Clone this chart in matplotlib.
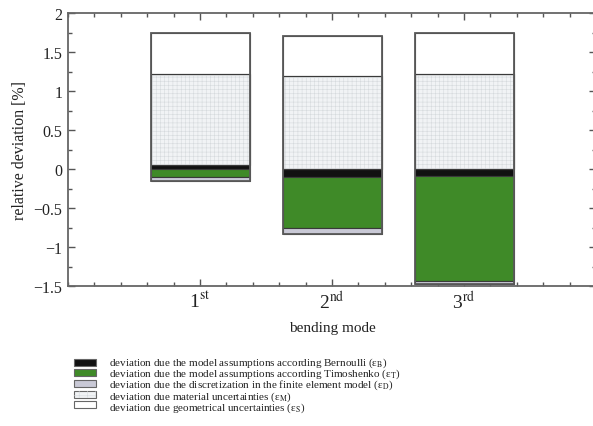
import matplotlib
matplotlib.use("Agg")
import matplotlib.pyplot as plt
from matplotlib.patches import Rectangle
from matplotlib.ticker import MultipleLocator
import numpy as np

plt.rcParams['font.family'] = ['Liberation Serif', 'DejaVu Serif']
plt.rcParams['mathtext.fontset'] = 'stix'
plt.rcParams['hatch.linewidth'] = 0.4

modes = [1, 2, 3]
mode_labels = [r'1$^{\mathrm{st}}$', r'2$^{\mathrm{nd}}$', r'3$^{\mathrm{rd}}$']

# signed contributions per bending mode, stacked from zero (positive up, negative down)
bernoulli = [0.045, -0.10, -0.09]
timoshenko = [-0.10, -0.65, -1.34]
discretization = [-0.06, -0.08, -0.05]
material = [1.175, 1.19, 1.22]
geometric = [0.52, 0.51, 0.52]

series = [
    (bernoulli, '#111111', None, r'deviation due the model assumptions according Bernoulli (ε$_{\mathrm{B}}$)'),
    (timoshenko, '#3f8a28', None, r'deviation due the model assumptions according Timoshenko (ε$_{\mathrm{T}}$)'),
    (discretization, '#c9c9d6', None, r'deviation due the discretization in the finite element model (ε$_{\mathrm{D}}$)'),
    (material, '#f1f3f5', '++++', r'deviation due material uncertainties (ε$_{\mathrm{M}}$)'),
    (geometric, '#ffffff', None, r'deviation due geometrical uncertainties (ε$_{\mathrm{S}}$)'),
]

W, H = 593, 427
fig = plt.figure(figsize=(W / 100, H / 100), dpi=100)
ax = fig.add_axes([68 / W, 1 - 287 / H, (596 - 68) / W, (287 - 14) / H])

width = 0.75
pos = np.zeros(3)
neg = np.zeros(3)
x = np.array(modes, dtype=float)
for vals, col, hatch, lab in series:
    v = np.array(vals)
    bottom = np.where(v >= 0, pos, neg)
    ax.bar(x, v, width, bottom=bottom, color=col, edgecolor='#3a3a3a', linewidth=0.8, zorder=2)
    if hatch:
        ax.bar(x, v, width, bottom=bottom, color='none', edgecolor='#d6dadd', hatch=hatch,
               linewidth=0, zorder=2.5)
        ax.bar(x, v, width, bottom=bottom, color='none', edgecolor='#3a3a3a', linewidth=0.8, zorder=3)
    pos = pos + np.where(v >= 0, v, 0)
    neg = neg + np.where(v < 0, v, 0)

# outer bar outlines
ax.bar(x, pos - neg, width, bottom=neg, color='none', edgecolor='#5a5a5a', linewidth=1.3, zorder=4)

ax.set_xlim(0, 4)
ax.set_ylim(-1.5, 2)
ax.set_xticks(modes)
ax.set_xticklabels(mode_labels, fontsize=14)
ax.xaxis.set_minor_locator(MultipleLocator(0.2))
ax.yaxis.set_minor_locator(MultipleLocator(0.25))
ax.set_yticks([-1.5, -1, -0.5, 0, 0.5, 1, 1.5, 2])
ax.set_yticklabels(['\u22121.5', '\u22121', '\u22120.5', '0', '0.5', '1', '1.5', '2'], fontsize=11.5)
ax.tick_params(which='both', direction='in', top=True, right=True, colors='#555555',
               labelcolor='#222222', width=1.0)
ax.tick_params(which='major', length=5, pad=4)
ax.tick_params(axis='x', which='major', pad=3)
ax.tick_params(which='minor', length=3)
for s in ax.spines.values():
    s.set_color('#666666')
    s.set_linewidth(1.3)
ax.set_xlabel('bending mode', fontsize=11, color='#222222', labelpad=6)
ax.set_ylabel('relative deviation [%]', fontsize=11.5, color='#222222', labelpad=4)

# legend (drawn manually to match compact spacing)
row_y = [363, 373.7, 384.4, 395.1, 405.8]
for (vals, col, hatch, lab), yy in zip(series, row_y):
    fig.patches.append(Rectangle((74 / W, 1 - (yy + 3.5) / H), 22 / W, 7 / H,
                                 transform=fig.transFigure, facecolor=col,
                                 edgecolor='#666666', linewidth=0.8))
    if hatch:
        fig.patches.append(Rectangle((74 / W, 1 - (yy + 3.5) / H), 22 / W, 7 / H,
                                     transform=fig.transFigure, facecolor='none',
                                     edgecolor='#d6dadd', hatch='++', linewidth=0))
legend_text = '\n'.join(s[3] for s in series)
fig.text(109 / W, 1 - 356 / H, legend_text, fontsize=8, va='top', ha='left',
         color='#222222', linespacing=0.78)

fig.savefig('out.png', dpi=100)
